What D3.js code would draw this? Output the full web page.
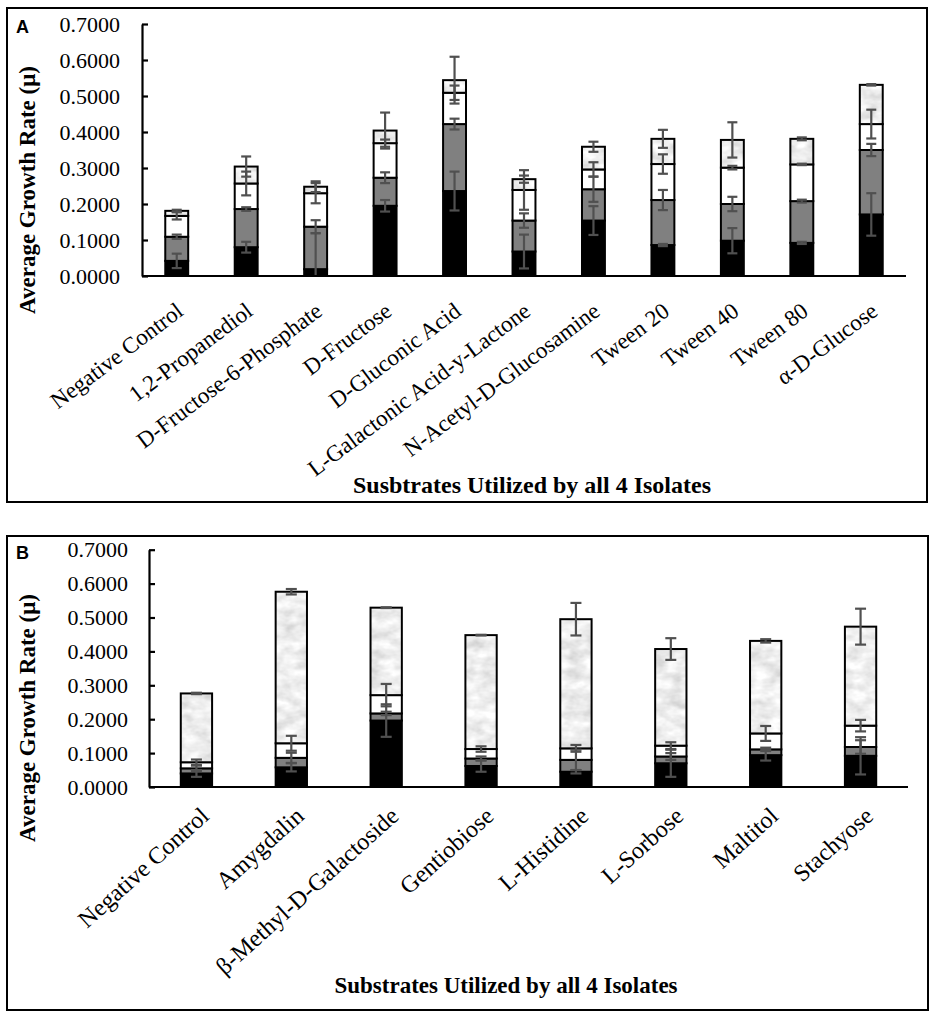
<!DOCTYPE html>
<html>
<head>
<meta charset="utf-8">
<title>Substrate growth rates</title>
<script src="https://cdn.jsdelivr.net/npm/d3@7"></script>
<style>
  body { margin: 0; background: #fff; }
  text { font-family: "Liberation Serif", "DejaVu Serif", "Times New Roman", serif; fill: #000; }
</style>
</head>
<body>
<script>
// ---- data (bottom to top: black, gray, white, marble) ----
const yTicks = [0, 0.1, 0.2, 0.3, 0.4, 0.5, 0.6, 0.7];

const catsA = ["Negative Control", "1,2-Propanediol", "D-Fructose-6-Phosphate", "D-Fructose",
  "D-Gluconic Acid", "L-Galactonic Acid-y-Lactone", "N-Acetyl-D-Glucosamine",
  "Tween 20", "Tween 40", "Tween 80", "α-D-Glucose"];
const blackA  = [0.042, 0.080, 0.019, 0.195, 0.236, 0.068, 0.154, 0.086, 0.098, 0.092, 0.171];
const grayA   = [0.067, 0.106, 0.118, 0.078, 0.186, 0.086, 0.087, 0.125, 0.102, 0.116, 0.179];
const whiteA  = [0.058, 0.071, 0.093, 0.096, 0.087, 0.085, 0.055, 0.100, 0.101, 0.102, 0.072];
const marbleA = [0.014, 0.047, 0.018, 0.035, 0.035, 0.030, 0.063, 0.070, 0.077, 0.071, 0.109];
const errBlackA  = [0.020, 0.015, 0.100, 0.016, 0.054, 0.047, 0.040, 0.003, 0.035, 0.003, 0.059];
const errGrayA   = [0.006, 0.005, 0.018, 0.015, 0.015, 0.020, 0.035, 0.028, 0.020, 0.004, 0.017];
const errWhiteA  = [0.010, 0.033, 0.028, 0.010, 0.020, 0.055, 0.020, 0.027, 0.005, 0.002, 0.040];
const errMarbleA = [0.003, 0.028, 0.015, 0.050, 0.065, 0.010, 0.014, 0.025, 0.049, 0.004, 0.002];

const catsB = ["Negative Control", "Amygdalin", "β-Methyl-D-Galactoside", "Gentiobiose",
  "L-Histidine", "L-Sorbose", "Maltitol", "Stachyose"];
const blackB  = [0.040, 0.058, 0.196, 0.062, 0.045, 0.070, 0.094, 0.092];
const grayB   = [0.015, 0.028, 0.021, 0.022, 0.035, 0.020, 0.017, 0.026];
const whiteB  = [0.018, 0.043, 0.054, 0.028, 0.034, 0.032, 0.047, 0.063];
const marbleB = [0.203, 0.447, 0.258, 0.336, 0.381, 0.285, 0.273, 0.292];
const errBlackB  = [0.010, 0.012, 0.048, 0.017, 0.005, 0.040, 0.016, 0.055];
const errGrayB   = [0.008, 0.015, 0.005, 0.006, 0.030, 0.010, 0.005, 0.020];
const errWhiteB  = [0.008, 0.022, 0.033, 0.008, 0.010, 0.010, 0.022, 0.017];
const errMarbleB = [0.002, 0.008, 0.001, 0.001, 0.048, 0.032, 0.005, 0.053];

const keys = ["black", "gray", "white", "marble"];
const fills = { black: "#000000", gray: "#808080", white: "#ffffff", marble: "#dcdcdc" };
const serif = "'Liberation Serif', 'DejaVu Serif', 'Times New Roman', serif";

const svg = d3.select("body").append("svg")
  .attr("width", 935).attr("height", 1019);

// marble texture for the top segment
const defs = svg.append("defs");
const f = defs.append("filter").attr("id", "marble")
  .attr("x", 0).attr("y", 0).attr("width", 1).attr("height", 1);
f.append("feTurbulence").attr("type", "fractalNoise")
  .attr("baseFrequency", "0.06 0.1").attr("numOctaves", 3).attr("seed", 7);
f.append("feColorMatrix").attr("type", "saturate").attr("values", 0);
const ct = f.append("feComponentTransfer");
["feFuncR", "feFuncG", "feFuncB"].forEach(n =>
  ct.append(n).attr("type", "linear").attr("slope", 0.75).attr("intercept", 0.48));
ct.append("feFuncA").attr("type", "linear").attr("slope", 0).attr("intercept", 1);
f.append("feComposite").attr("in2", "SourceGraphic").attr("operator", "in");

function drawPanel(p) {
  const g = svg.append("g");

  g.append("rect")
    .attr("x", p.frame[0]).attr("y", p.frame[1])
    .attr("width", p.frame[2] - p.frame[0]).attr("height", p.frame[3] - p.frame[1])
    .attr("fill", "none").attr("stroke", "#000").attr("stroke-width", 2);

  g.append("text").text(p.letter)
    .attr("x", p.frame[0] + 9).attr("y", p.letterY)
    .style("font-family", "'Liberation Sans', Arial, sans-serif")
    .style("font-weight", "bold").style("font-size", "18px");

  const x = d3.scaleBand().domain(p.cats).range([p.left, p.right])
    .paddingInner(0.67).paddingOuter(0.335);
  const y = d3.scaleLinear().domain([0, 0.7]).range([p.base, p.top]);

  const rows = p.cats.map((c, i) => {
    const r = { cat: c };
    keys.forEach((k, j) => r[k] = p.vals[j][i]);
    return r;
  });
  const stacked = d3.stack().keys(keys)(rows);

  // bars
  const layer = g.selectAll("g.layer").data(stacked).join("g").attr("class", "layer");
  layer.selectAll("rect.fill").data(d => d).join("rect").attr("class", "fill")
    .attr("x", d => x(d.data.cat))
    .attr("y", d => y(d[1]))
    .attr("width", x.bandwidth())
    .attr("height", d => y(d[0]) - y(d[1]))
    .attr("fill", function () { return fills[d3.select(this.parentNode).datum().key]; })
    .attr("filter", function () {
      return d3.select(this.parentNode).datum().key === "marble" ? "url(#marble)" : null;
    });
  layer.selectAll("rect.edge").data(d => d).join("rect").attr("class", "edge")
    .attr("x", d => x(d.data.cat))
    .attr("y", d => y(d[1]))
    .attr("width", x.bandwidth())
    .attr("height", d => y(d[0]) - y(d[1]))
    .attr("fill", "none").attr("stroke", "#000").attr("stroke-width", 2);

  // error bars
  const eb = [];
  stacked.forEach((s, j) => s.forEach((d, i) => {
    const e = p.errs[j][i];
    eb.push({ cx: x(d.data.cat) + x.bandwidth() / 2, lo: Math.max(0, d[1] - e), hi: d[1] + e, clipped: d[1] - e < 0 });
  }));
  const eg = g.append("g").attr("stroke", "#505050").attr("stroke-width", 2.2);
  eg.selectAll("line.v").data(eb).join("line")
    .attr("x1", d => d.cx).attr("x2", d => d.cx)
    .attr("y1", d => y(d.lo)).attr("y2", d => y(d.hi));
  eg.selectAll("line.t").data(eb).join("line")
    .attr("x1", d => d.cx - p.cap).attr("x2", d => d.cx + p.cap)
    .attr("y1", d => y(d.hi)).attr("y2", d => y(d.hi));
  eg.selectAll("line.b").data(eb.filter(d => !d.clipped)).join("line")
    .attr("x1", d => d.cx - p.cap).attr("x2", d => d.cx + p.cap)
    .attr("y1", d => y(d.lo)).attr("y2", d => y(d.lo));

  // axes
  const ya = g.append("g").attr("transform", `translate(${p.left},0)`)
    .call(d3.axisLeft(y).tickValues(yTicks).tickFormat(d3.format(".4f"))
      .tickSize(-6).tickSizeOuter(0).tickPadding(p.tickPad));
  ya.attr("font-family", null);
  ya.select(".domain").attr("stroke-width", 2.2);
  ya.selectAll(".tick line").attr("stroke-width", 2.2);
  ya.selectAll(".tick text")
    .style("font-family", serif)
    .style("font-size", "22px");

  g.append("line")
    .attr("x1", p.left).attr("x2", p.right)
    .attr("y1", p.base).attr("y2", p.base)
    .attr("stroke", "#000").attr("stroke-width", 2.2);

  g.selectAll("text.cat").data(p.cats).join("text").attr("class", "cat")
    .attr("text-anchor", "end")
    .attr("transform", c => `translate(${x(c) + x.bandwidth() / 2 + p.labDx},${p.base + p.labDy}) rotate(${-p.angle})`)
    .style("font-family", serif)
    .style("font-size", p.labSize + "px")
    .text(c => c);

  g.append("text").text("Average Growth Rate (μ)")
    .attr("text-anchor", "middle")
    .attr("transform", `translate(35,${p.yTitleY}) rotate(-90)`)
    .style("font-family", serif)
    .style("font-weight", "bold").style("font-size", "23px");

  g.append("text").text(p.xTitle)
    .attr("text-anchor", "middle")
    .attr("x", p.xTitleX).attr("y", p.xTitleY)
    .style("font-family", serif)
    .style("font-weight", "bold").style("font-size", p.xTitleSize + "px");
}

drawPanel({
  letter: "A", letterY: 33, frame: [7, 8, 927, 502],
  cats: catsA, vals: [blackA, grayA, whiteA, marbleA],
  errs: [errBlackA, errGrayA, errWhiteA, errMarbleA],
  left: 142, right: 906, base: 276, top: 24, cap: 5, tickPad: 22,
  labDx: 8, labDy: 38, angle: 37, labSize: 23,
  yTitleY: 190, xTitle: "Susbtrates Utilized by all 4 Isolates",
  xTitleX: 532, xTitleY: 493, xTitleSize: 24
});

drawPanel({
  letter: "B", letterY: 559, frame: [7, 536, 928, 1010],
  cats: catsB, vals: [blackB, grayB, whiteB, marbleB],
  errs: [errBlackB, errGrayB, errWhiteB, errMarbleB],
  left: 149, right: 908, base: 787, top: 549.7, cap: 5.5, tickPad: 21,
  labDx: 14, labDy: 31, angle: 42, labSize: 24,
  yTitleY: 718, xTitle: "Substrates Utilized by all 4 Isolates",
  xTitleX: 506, xTitleY: 993, xTitleSize: 23
});
</script>
</body>
</html>
